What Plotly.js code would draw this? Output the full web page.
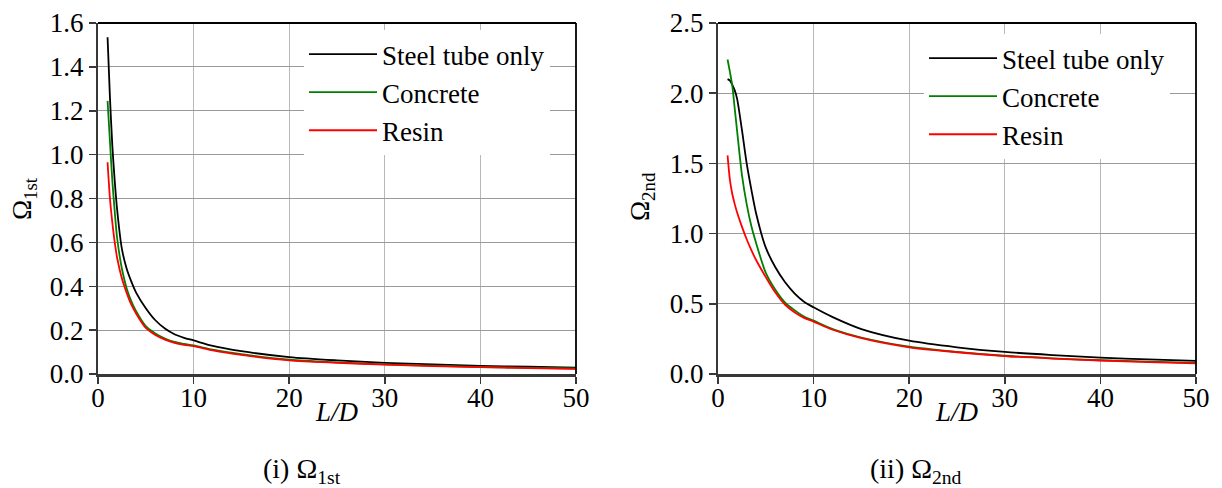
<!DOCTYPE html>
<html>
<head>
<meta charset="utf-8">
<script src="https://cdn.plot.ly/plotly-3.0.1.min.js"></script>
<style>html,body{margin:0;padding:0;background:#fff;}#chart{width:1222px;height:488px;}</style>
</head>
<body>
<div id="chart"></div>
<script>
// L/D values (shared by both panels)
const LD = [1,1.25,1.5,1.75,2,2.5,3,3.5,4,5,6,7,8,9,10,12,15,20,25,30,35,40,45,50];

// (i) Omega_1st
const omega1_steel    = [1.535,1.26,1.04,0.88,0.75,0.57,0.48,0.42,0.37,0.30,0.245,0.207,0.181,0.165,0.153,0.128,0.104,0.077,0.062,0.051,0.044,0.037,0.033,0.029];
const omega1_concrete = [1.245,1.06,0.88,0.74,0.62,0.48,0.39,0.33,0.285,0.218,0.185,0.162,0.146,0.137,0.13,0.111,0.09,0.065,0.053,0.044,0.038,0.032,0.028,0.025];
const omega1_resin    = [0.965,0.80,0.69,0.60,0.53,0.435,0.37,0.315,0.275,0.21,0.178,0.157,0.142,0.133,0.127,0.108,0.087,0.062,0.051,0.043,0.036,0.031,0.027,0.023];

// (ii) Omega_2nd
const omega2_steel    = [2.10,2.09,2.06,2.02,1.96,1.74,1.50,1.31,1.14,0.90,0.76,0.655,0.575,0.515,0.475,0.405,0.32,0.237,0.19,0.157,0.135,0.117,0.104,0.094];
const omega2_concrete = [2.24,2.15,2.05,1.89,1.73,1.42,1.21,1.05,0.93,0.72,0.60,0.51,0.455,0.41,0.38,0.32,0.26,0.195,0.158,0.13,0.112,0.098,0.088,0.079];
const omega2_resin    = [1.557,1.38,1.28,1.21,1.15,1.05,0.96,0.88,0.81,0.69,0.58,0.495,0.44,0.40,0.373,0.315,0.255,0.19,0.155,0.128,0.11,0.096,0.085,0.076];

const seriesNames = ["Steel tube only","Concrete","Resin"];
const seriesColors = ["#000000","#008000","#ff0000"];

const FONT = "'Liberation Serif', 'Times New Roman', serif";

function mk(y, i, xa, ya, leg) {
  return {
    x: LD, y: y, type: "scatter", mode: "lines",
    name: seriesNames[i], xaxis: xa, yaxis: ya, legend: leg,
    line: {color: seriesColors[i], width: 1.8, shape: "spline", smoothing: 0.8}
  };
}

const data = [
  mk(omega1_steel,0,"x","y","legend"),
  mk(omega1_concrete,1,"x","y","legend"),
  mk(omega1_resin,2,"x","y","legend"),
  mk(omega2_steel,0,"x2","y2","legend2"),
  mk(omega2_concrete,1,"x2","y2","legend2"),
  mk(omega2_resin,2,"x2","y2","legend2")
];

const W = 1222, H = 488;
const ydom = [114/H, 465/H];

function xax(dom, anchor) {
  return {
    domain: dom, anchor: anchor, range: [0,50], tickvals: [0,10,20,30,40,50],
    showgrid: true, gridcolor: "#b8b8b8", gridwidth: 1.4, zeroline: false,
    showline: true, linecolor: "#383838", linewidth: 2.5, mirror: false,
    ticks: "outside", ticklen: 7, tickwidth: 1.5, tickcolor: "#383838",
    ticklabelposition: "outside", ticklabelstandoff: -9,
    tickfont: {family: FONT, size: 27, color: "#000"}
  };
}
function yax(range, step, anchor) {
  const vals = [];
  for (let v = range[0]; v <= range[1] + 1e-9; v += step) vals.push(+v.toFixed(2));
  return {
    domain: ydom, anchor: anchor, range: range, tickvals: vals, tickformat: ".1f",
    showgrid: true, gridcolor: "#9a9a9a", gridwidth: 1.2, zeroline: false,
    showline: true, linecolor: "#383838", linewidth: 2, mirror: false,
    ticks: "outside", ticklen: 7, tickwidth: 1.5, tickcolor: "#383838",
    tickfont: {family: FONT, size: 27, color: "#000"}
  };
}

function border(xr, yr) {
  return [
    {type:"line", xref: xr+" domain", yref: yr+" domain", x0:0, x1:1, y0:1, y1:1, line:{color:"#000", width:1.8}},
    {type:"line", xref: xr+" domain", yref: yr+" domain", x0:1, x1:1, y0:0, y1:1, line:{color:"#000", width:1.8}}
  ];
}

function ann(text, xpx, ypx, size, angle, italic) {
  return {
    text: text, xref: "paper", yref: "paper", x: xpx/W, y: 1 - ypx/H,
    xanchor: "center", yanchor: "middle", showarrow: false, textangle: angle || 0,
    font: {family: FONT, size: size, color: "#000", style: italic ? "italic" : "normal"}
  };
}

const layout = {
  width: W, height: H,
  margin: {l:0, r:0, t:0, b:0},
  paper_bgcolor: "#fff", plot_bgcolor: "#fff",
  showlegend: true,
  font: {family: FONT},
  xaxis: xax([98/W, 576/W], "y"),
  yaxis: yax([0,1.6], 0.2, "x"),
  xaxis2: xax([718/W, 1196/W], "y2"),
  yaxis2: yax([0,2.5], 0.5, "x2"),
  legend: {x: 304/W, y: 1 - 30/H, xanchor: "left", yanchor: "top", bgcolor: "#fff",
           borderwidth: 0, font: {family: FONT, size: 27, color: "#000"}, itemwidth: 68, tracegroupgap: 0},
  legend2: {x: 924/W, y: 1 - 34/H, xanchor: "left", yanchor: "top", bgcolor: "#fff",
           borderwidth: 0, font: {family: FONT, size: 27, color: "#000"}, itemwidth: 68, tracegroupgap: 0},
  shapes: [].concat(border("x","y"), border("x2","y2")),
  annotations: [
    ann("Ω<sub>1st</sub>", 24, 199, 27, -90, false),
    ann("Ω<sub>2nd</sub>", 642, 197, 27, -90, false),
    ann("L/D", 337, 412, 27, 0, true),
    ann("L/D", 957, 412, 27, 0, true),
    ann("(i) Ω<sub>1st</sub>", 302, 470, 28, 0, false),
    ann("(ii) Ω<sub>2nd</sub>", 916, 470, 28, 0, false)
  ]
};

Plotly.newPlot("chart", data, layout, {staticPlot: true, displayModeBar: false});
</script>
</body>
</html>
